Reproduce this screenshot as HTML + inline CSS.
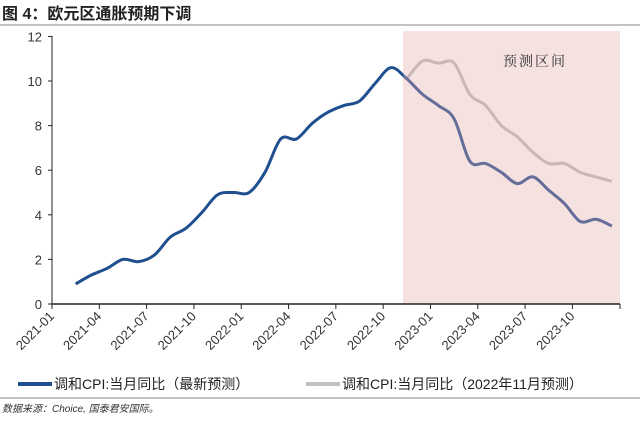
<!DOCTYPE html>
<html><head><meta charset="utf-8"><style>
body{margin:0;background:#fff;width:640px;height:418px;overflow:hidden;font-family:"Liberation Sans","Noto Sans CJK SC",sans-serif}
svg text{font-family:"Liberation Sans","Noto Sans CJK SC",sans-serif}
</style></head><body>
<svg id="c" width="640" height="418"></svg>
<script>
const months = [];
for (let y = 2021; y <= 2023; y++) for (let m = 1; m <= 12; m++) months.push(y + '-' + String(m).padStart(2, '0'));
const latestStart = 1;
const latestValues = [0.9,1.3,1.6,2.0,1.9,2.2,3.0,3.4,4.1,4.9,5.0,5.0,5.9,7.4,7.4,8.1,8.6,8.9,9.1,9.9,10.6,10.1,9.4,8.9,8.3,6.4,6.3,5.9,5.4,5.7,5.1,4.5,3.7,3.8,3.5];
const oldStart = 22;
const oldValues = [10.1,10.9,10.8,10.8,9.4,8.9,8.0,7.5,6.8,6.3,6.3,5.9,5.7,5.5];
const yTicks = [0,2,4,6,8,10,12];
const xTickIdx = [0,3,6,9,12,15,18,21,24,27,30,33];
const forecastFrom = 22;
const NS = 'http://www.w3.org/2000/svg';
const svg = document.getElementById('c');
const X0 = 52, MW = 15.77, Y0 = 304, YU = 22.3;
const xPos = i => X0 + (i + 0.5) * MW;
const xEdge = i => X0 + i * MW;
const yPos = v => Y0 - v * YU;
function mk(tag, attrs, parent) {
  const e = document.createElementNS(NS, tag);
  for (const k in attrs) e.setAttribute(k, attrs[k]);
  (parent || svg).appendChild(e);
  return e;
}
let t = mk('text', {x: 2, y: 19, 'font-size': 16, 'font-weight': 'bold', fill: '#222'});
t.textContent = '图 4：欧元区通胀预期下调';


let l = mk('line', {x1: 0, y1: 25, x2: 640, y2: 25, stroke: '#888', 'stroke-width': 1});


function smoothPath(start, vals) {
  const pts = vals.map((v, k) => [xPos(start + k), yPos(v)]);
  let d = 'M' + pts[0][0] + ' ' + pts[0][1];
  for (let k = 0; k < pts.length - 1; k++) {
    const p0 = pts[k - 1] || pts[k], p1 = pts[k], p2 = pts[k + 1], p3 = pts[k + 2] || p2;
    const c1 = [p1[0] + (p2[0] - p0[0]) / 6, p1[1] + (p2[1] - p0[1]) / 6];
    const c2 = [p2[0] - (p3[0] - p1[0]) / 6, p2[1] - (p3[1] - p1[1]) / 6];
    d += ' C' + c1.join(' ') + ' ' + c2.join(' ') + ' ' + p2.join(' ');
  }
  return d;
}
let g = mk('path', {d: smoothPath(oldStart, oldValues), fill: 'none', stroke: '#bdbdbd', 'stroke-width': 3, 'stroke-linejoin': 'round'});


let b = mk('path', {d: smoothPath(latestStart, latestValues), fill: 'none', stroke: '#1f4f8f', 'stroke-width': 3, 'stroke-linejoin': 'round'});


const sx = xEdge(forecastFrom) + 4;
let r = mk('rect', {x: sx, y: 31, width: 620 - sx, height: Y0 - 31, fill: 'rgba(228,170,170,0.35)'});


let rt = mk('text', {x: 535, y: 66, 'font-size': 14, fill: '#333', 'text-anchor': 'middle', 'letter-spacing': 2, style: 'font-family:"Noto Serif CJK SC",serif'});
rt.textContent = '预测区间';


let ya = mk('line', {x1: X0, y1: 36, x2: X0, y2: Y0, stroke: '#222', 'stroke-width': 1});


let xa = mk('line', {x1: X0, y1: Y0, x2: 620, y2: Y0, stroke: '#222', 'stroke-width': 1.5});


yTicks.forEach(v => {
  mk('line', {x1: X0 - 4, y1: yPos(v), x2: X0, y2: yPos(v), stroke: '#222'});
  const tx = mk('text', {x: X0 - 10, y: yPos(v) + 5, 'font-size': 13, fill: '#333', 'text-anchor': 'end'});
  tx.textContent = v;
  
  
});
xTickIdx.forEach(i => {
  const x = xEdge(i);
  mk('line', {x1: x, y1: Y0, x2: x, y2: Y0 + 5, stroke: '#222'});
  const tx = mk('text', {x: x + 3, y: Y0 + 13, 'font-size': 13, fill: '#333', 'text-anchor': 'end', transform: 'rotate(-45 ' + (x + 3) + ' ' + (Y0 + 13) + ')'});
  tx.textContent = months[i];
  
  
});
mk('line', {x1: 620, y1: Y0, x2: 620, y2: Y0 + 5, stroke: '#222'});
let lg1 = mk('line', {x1: 18, y1: 384, x2: 52, y2: 384, stroke: '#1f4f8f', 'stroke-width': 4});


let lt1 = mk('text', {x: 54, y: 389, 'font-size': 14, fill: '#222'});
lt1.textContent = '调和CPI:当月同比（最新预测）';


let lg2 = mk('line', {x1: 306, y1: 384, x2: 340, y2: 384, stroke: '#c0c0c0', 'stroke-width': 4});


let lt2 = mk('text', {x: 342, y: 389, 'font-size': 14, fill: '#222'});
lt2.textContent = '调和CPI:当月同比（2022年11月预测）';


let l2 = mk('line', {x1: 0, y1: 398, x2: 640, y2: 398, stroke: '#888', 'stroke-width': 1});


let src = mk('text', {x: 2, y: 412, 'font-size': 10, fill: '#333', 'font-style': 'italic'});
src.textContent = '数据来源：Choice, 国泰君安国际。';


</script>
</body></html>
